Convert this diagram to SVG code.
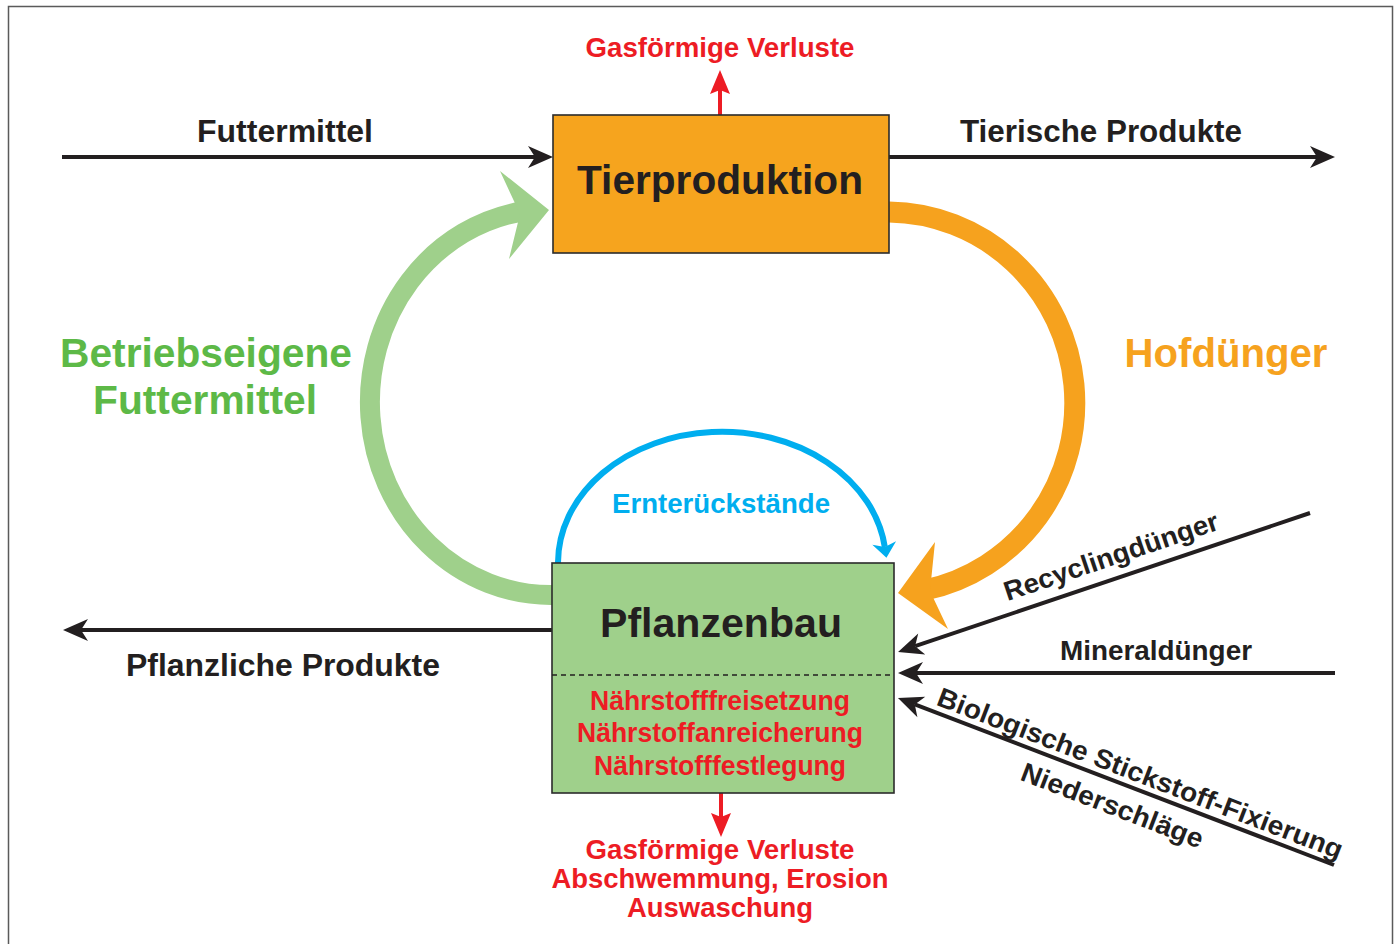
<svg xmlns="http://www.w3.org/2000/svg" width="1394" height="944" viewBox="0 0 1394 944">
<style>
text{font-family:"Liberation Sans",Arial,Helvetica,sans-serif;font-weight:bold;text-anchor:middle}
.blk{fill:#231F20}
.red{fill:#ED1C24}
.lab{font-size:31px}
.big{font-size:41px}
.node{font-size:41px}
.sm{font-size:27px}
.ln{stroke:#231F20;stroke-width:4;fill:none}
.rln{stroke:#ED1C24;stroke-width:4;fill:none}
.box{stroke:#2B2B2B;stroke-width:1.6}
</style>
<defs>
<marker id="ah" markerUnits="userSpaceOnUse" viewBox="0 -15 30 30" markerWidth="30" markerHeight="30" refX="7" refY="0" orient="auto" overflow="visible">
<path d="M0,-11 L25,0 L0,11 L7,0 Z" fill="#231F20"/>
</marker>
<marker id="ahr" markerUnits="userSpaceOnUse" viewBox="0 -15 30 30" markerWidth="30" markerHeight="30" refX="4" refY="0" orient="auto" overflow="visible">
<path d="M0,-10 L24,0 L0,10 L4,0 Z" fill="#ED1C24"/>
</marker>
<marker id="ahb" markerUnits="userSpaceOnUse" viewBox="0 -15 30 30" markerWidth="30" markerHeight="30" refX="4" refY="0" orient="auto" overflow="visible">
<path d="M0,-12 L15,0 L0,12 L4,0 Z" fill="#00AEEF"/>
</marker>
</defs>
<rect x="8.5" y="6.5" width="1384" height="960" fill="#FFFFFF" stroke="#5A5A5A" stroke-width="1.5"/>

<g id="connectors">
<path d="M553,595 A181,193 0 0 1 525,211" stroke="#9FD08B" stroke-width="20" fill="none"/>
<polygon points="549,210 500,171 520,214 509,259" fill="#9FD08B"/>
<path d="M889,212 A188,191 0 0 1 925,590" stroke="#F6A21E" stroke-width="21" fill="none"/>
<polygon points="898,593 935,542 930,591 948,629" fill="#F6A21E"/>
<path d="M558,563 A164,131 0 0 1 884.8,547" stroke="#00AEEF" stroke-width="6" fill="none" marker-end="url(#ahb)"/>
<path class="ln" d="M62,157 H535" marker-end="url(#ah)"/>
<path class="ln" d="M889,157 H1317" marker-end="url(#ah)"/>
<path class="ln" d="M552,630 H81" marker-end="url(#ah)"/>
<path class="ln" d="M1310,513 L915.1,646.2" marker-end="url(#ah)"/>
<path class="ln" d="M1335,673 H916" marker-end="url(#ah)"/>
<path class="ln" d="M1334,865 L914.8,704.4" marker-end="url(#ah)"/>
<path class="rln" d="M720,115 V90" marker-end="url(#ahr)"/>
<path class="rln" d="M721,793 V817" marker-end="url(#ahr)"/>
</g>

<g id="node-tierproduktion">
<rect class="box" x="553" y="115" width="336" height="138" fill="#F6A41E"/>
<text class="blk node" x="720" y="194" textLength="286" lengthAdjust="spacingAndGlyphs">Tierproduktion</text>
</g>

<g id="node-pflanzenbau">
<rect class="box" x="552" y="563" width="342" height="230" fill="#9FD08B"/>
<line x1="552" y1="675" x2="894" y2="675" stroke="#231F20" stroke-width="1.4" stroke-dasharray="5,4"/>
<text class="blk node" x="721" y="637" textLength="242" lengthAdjust="spacingAndGlyphs">Pflanzenbau</text>
<text class="red sm" x="720" y="710" textLength="260" lengthAdjust="spacingAndGlyphs">Nährstofffreisetzung</text>
<text class="red sm" x="720" y="742" textLength="286" lengthAdjust="spacingAndGlyphs">Nährstoffanreicherung</text>
<text class="red sm" x="720" y="775" textLength="252" lengthAdjust="spacingAndGlyphs">Nährstofffestlegung</text>
</g>

<g id="labels">
<text class="red sm" x="720" y="57" textLength="269" lengthAdjust="spacingAndGlyphs">Gasförmige Verluste</text>
<text class="blk lab" x="285" y="142" textLength="176" lengthAdjust="spacingAndGlyphs">Futtermittel</text>
<text class="blk lab" x="1101" y="142" textLength="282" lengthAdjust="spacingAndGlyphs">Tierische Produkte</text>
<text class="blk lab" x="283" y="676" textLength="314" lengthAdjust="spacingAndGlyphs">Pflanzliche Produkte</text>
<text class="big" fill="#5DB947" x="206" y="367" textLength="292" lengthAdjust="spacingAndGlyphs">Betriebseigene</text>
<text class="big" fill="#5DB947" x="205" y="414" textLength="224" lengthAdjust="spacingAndGlyphs">Futtermittel</text>
<text class="big" fill="#F6A21E" x="1226" y="367" textLength="203" lengthAdjust="spacingAndGlyphs">Hofdünger</text>
<text fill="#00AEEF" style="font-size:27px" x="721" y="513" textLength="218" lengthAdjust="spacingAndGlyphs">Ernterückstände</text>
<text class="blk sm" transform="translate(1114,565) rotate(-18.7)" textLength="225" lengthAdjust="spacingAndGlyphs">Recyclingdünger</text>
<text class="blk sm" x="1156" y="660" textLength="192" lengthAdjust="spacingAndGlyphs">Mineraldünger</text>
<text class="blk sm" transform="translate(1137,782) rotate(21)" textLength="432" lengthAdjust="spacingAndGlyphs">Biologische Stickstoff-Fixierung</text>
<text class="blk sm" transform="translate(1109,814) rotate(21)" textLength="193" lengthAdjust="spacingAndGlyphs">Niederschläge</text>
<text class="red sm" x="720" y="859" textLength="269" lengthAdjust="spacingAndGlyphs">Gasförmige Verluste</text>
<text class="red sm" x="720" y="888" textLength="337" lengthAdjust="spacingAndGlyphs">Abschwemmung, Erosion</text>
<text class="red sm" x="720" y="917" textLength="186" lengthAdjust="spacingAndGlyphs">Auswaschung</text>
</g>
</svg>
